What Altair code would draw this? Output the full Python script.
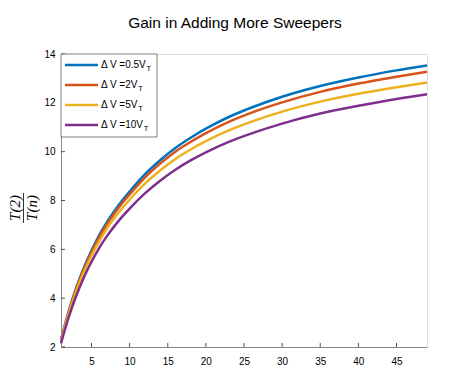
import altair as alt
import pandas as pd

# ---- data ----
n_vals = [1, 2, 3, 4, 5, 6, 7, 8, 9, 10, 12, 14, 16, 18, 20, 23, 26, 30, 35, 40, 45, 49]
gain_dv05 = [2.30, 3.46, 4.43, 5.25, 5.95, 6.57, 7.10, 7.57, 7.99, 8.37, 9.07, 9.65, 10.15, 10.57,
             10.94, 11.42, 11.81, 12.25, 12.69, 13.04, 13.33, 13.53]
gain_dv2 = [2.27, 3.42, 4.38, 5.19, 5.88, 6.49, 7.01, 7.47, 7.88, 8.25, 8.94, 9.51, 10.00, 10.40,
            10.76, 11.22, 11.60, 12.02, 12.45, 12.79, 13.07, 13.27]
gain_dv5 = [2.24, 3.36, 4.29, 5.07, 5.74, 6.33, 6.84, 7.28, 7.67, 8.03, 8.69, 9.23, 9.70, 10.09,
            10.43, 10.87, 11.23, 11.64, 12.05, 12.37, 12.64, 12.83]
gain_dv10 = [2.15, 3.21, 4.10, 4.85, 5.49, 6.05, 6.53, 6.95, 7.33, 7.67, 8.29, 8.81, 9.26, 9.64,
             9.97, 10.40, 10.75, 11.15, 11.56, 11.88, 12.16, 12.35]

series_labels = ["Δ V =0.5V", "Δ V =2V", "Δ V =5V", "Δ V =10V"]
series_subscript = "T"
series_colors = ["#0072BD", "#D95319", "#EDB120", "#7E2F8E"]

x_ticks = [5, 10, 15, 20, 25, 30, 35, 40, 45]
y_ticks = [2, 4, 6, 8, 10, 12, 14]
x_domain = [1, 49]
y_domain = [2, 14]

title_text = "Gain in Adding More Sweepers"
ylabel_num = "T(2)"
ylabel_den = "T(n)"

# ---- layout ----
W, H = 366, 293
AX = "#262626"
FONT = "Liberation Sans"

xs = alt.Scale(domain=x_domain, nice=False, zero=False)
ys = alt.Scale(domain=y_domain, nice=False, zero=False)
x_axis = alt.Axis(values=x_ticks, title="", grid=False, ticks=False, labelPadding=9)
y_axis = alt.Axis(values=y_ticks, title="", grid=False, ticks=False, labelPadding=6)

one = pd.DataFrame({"k": [0]})
layers = []

# inward ticks (MATLAB style)
layers.append(
    alt.Chart(pd.DataFrame({"t": x_ticks})).mark_rule(color=AX, strokeWidth=0.8).encode(
        x=alt.X("t:Q", scale=xs, axis=x_axis), y=alt.value(H), y2=alt.value(H - 4)
    )
)
layers.append(
    alt.Chart(pd.DataFrame({"t": y_ticks})).mark_rule(color=AX, strokeWidth=0.8).encode(
        y=alt.Y("t:Q", scale=ys, axis=y_axis), x=alt.value(0), x2=alt.value(4)
    )
)

# curves
for vals, col in zip([gain_dv05, gain_dv2, gain_dv5, gain_dv10], series_colors):
    df = pd.DataFrame({"n": n_vals, "g": vals})
    layers.append(
        alt.Chart(df).mark_line(color=col, strokeWidth=2.5, interpolate="monotone").encode(
            x=alt.X("n:Q", scale=xs, axis=x_axis),
            y=alt.Y("g:Q", scale=ys, axis=y_axis),
        )
    )

# legend box
layers.append(
    alt.Chart(one).mark_rect(fill="white", stroke=AX, strokeWidth=0.6).encode(
        x=alt.value(0), x2=alt.value(96), y=alt.value(0), y2=alt.value(83)
    )
)

# approximate Arial/Liberation Sans advance widths (em) for subscript placement
cw = {"Δ": 0.668, " ": 0.278, "V": 0.667, "=": 0.584, ".": 0.278}
LFS = 10
for i, (lab, col) in enumerate(zip(series_labels, series_colors)):
    ly = 11 + 20 * i
    layers.append(
        alt.Chart(one).mark_rule(color=col, strokeWidth=2.5).encode(
            x=alt.value(4), x2=alt.value(37), y=alt.value(ly)
        )
    )
    layers.append(
        alt.Chart(pd.DataFrame({"lab": [lab]})).mark_text(
            align="left", baseline="middle", font=FONT, fontSize=LFS, color="black"
        ).encode(x=alt.value(40), y=alt.value(ly), text="lab:N")
    )
    wpx = sum(cw.get(c, 0.556) for c in lab) * LFS
    layers.append(
        alt.Chart(pd.DataFrame({"lab": [series_subscript]})).mark_text(
            align="left", baseline="middle", font=FONT, fontSize=7.5, color="black"
        ).encode(x=alt.value(40 + wpx + 0.3), y=alt.value(ly + 3.5), text="lab:N")
    )

# y label as a fraction T(2)/T(n)
LY = 154
layers.append(
    alt.Chart(pd.DataFrame({"s": [ylabel_num]})).mark_text(
        angle=270, align="center", baseline="middle", font="Liberation Serif",
        fontStyle="italic", fontSize=15, color="black"
    ).encode(x=alt.value(-46), y=alt.value(LY), text="s:N")
)
layers.append(
    alt.Chart(pd.DataFrame({"s": [ylabel_den]})).mark_text(
        angle=270, align="center", baseline="middle", font="Liberation Serif",
        fontStyle="italic", fontSize=15, color="black"
    ).encode(x=alt.value(-29), y=alt.value(LY), text="s:N")
)
layers.append(
    alt.Chart(one).mark_rule(color="black", strokeWidth=0.8).encode(
        x=alt.value(-37.5), y=alt.value(LY - 15), y2=alt.value(LY + 15)
    )
)

# title
layers.append(
    alt.Chart(pd.DataFrame({"s": [title_text]})).mark_text(
        align="center", baseline="alphabetic", font=FONT, fontSize=15.5, color="black"
    ).encode(x=alt.value(W / 2 - 9), y=alt.value(-26), text="s:N")
)

chart = (
    alt.layer(*layers)
    .properties(
        width=W,
        height=H,
        autosize=alt.AutoSizeParams(type="none"),
        padding={"left": 53, "top": 46, "right": 36, "bottom": 33},
    )
    .configure_view(stroke=None)
    .configure_axis(
        domainColor=AX, domainWidth=0.8, ticks=False, grid=False,
        labelFont=FONT, labelFontSize=11, labelColor=AX,
    )
    .configure(background="white")
)

chart.save("out.html", embed_options={"renderer": "svg", "actions": False})
